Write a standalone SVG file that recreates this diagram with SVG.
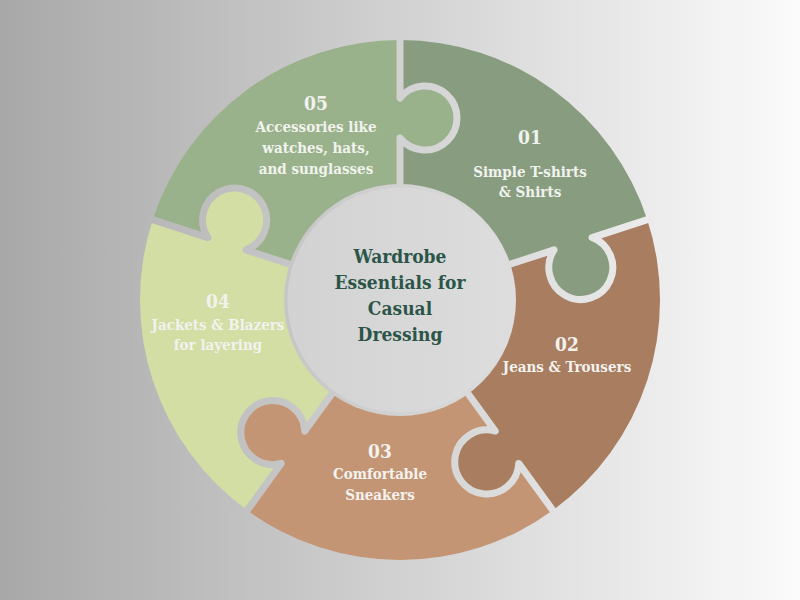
<svg xmlns="http://www.w3.org/2000/svg" width="800" height="600" viewBox="0 0 800 600">
  <defs>
    <linearGradient id="bg" gradientUnits="userSpaceOnUse" x1="0" y1="0" x2="800" y2="0">
      <stop offset="0" stop-color="#a8a8a8"/>
      <stop offset="1" stop-color="#fbfbfb"/>
    </linearGradient>
    <linearGradient id="hub" gradientUnits="userSpaceOnUse" x1="287" y1="0" x2="513" y2="0">
      <stop offset="0" stop-color="#d2d2d2"/>
      <stop offset="1" stop-color="#dddddd"/>
    </linearGradient>
    <style>
      .gap { fill: none; stroke: url(#bg); stroke-width: 7; stroke-linejoin: round; stroke-linecap: butt; }
      .num { font-family: 'DejaVu Serif Condensed', 'DejaVu Serif', serif; font-stretch: condensed; font-weight: bold; font-size: 19px; fill: #f2f2ee; text-anchor: middle; }
      .lbl { font-family: 'DejaVu Serif Condensed', 'DejaVu Serif', serif; font-stretch: condensed; font-weight: bold; font-size: 15px; fill: #f2f2ee; text-anchor: middle; }
      .title { font-family: 'DejaVu Serif Condensed', 'DejaVu Serif', serif; font-stretch: condensed; font-weight: bold; font-size: 19px; fill: #2b5548; text-anchor: middle; }
    </style>
  </defs>
  <rect x="0" y="0" width="800" height="600" fill="url(#bg)"/>

  <g id="piece1">
    <path fill="#889d80" d="M400,200 L400,138 A32,32 0 1 0 400,98 L400,40 A260,260 0 0 1 647.28,219.66 L592.11,237.58 A32,32 0 1 1 554.07,249.94 L495.11,269.10 A100,100 0 0 0 400,200 Z"/>
  </g>
  <g id="piece2">
    <path fill="#a87d60" d="M495.11,269.10 L554.07,249.94 A32,32 0 1 0 592.11,237.58 L647.28,219.66 A260,260 0 0 1 552.83,510.35 L518.73,463.42 A32,32 0 1 1 495.22,431.06 L458.78,380.90 A100,100 0 0 0 495.11,269.10 Z"/>
  </g>
  <g id="piece3">
    <path fill="#c49574" d="M458.78,380.90 L495.22,431.06 A32,32 0 1 0 518.73,463.42 L552.83,510.35 A260,260 0 0 1 247.17,510.35 L281.27,463.42 A32,32 0 1 1 304.78,431.06 L341.22,380.90 A100,100 0 0 0 458.78,380.90 Z"/>
  </g>
  <g id="piece4">
    <path fill="#d2dea4" d="M341.22,380.90 L304.78,431.06 A32,32 0 1 0 281.27,463.42 L247.17,510.35 A260,260 0 0 1 152.72,219.66 L207.89,237.58 A32,32 0 1 1 245.93,249.94 L304.89,269.10 A100,100 0 0 0 341.22,380.90 Z"/>
  </g>
  <g id="piece5">
    <path fill="#99b28b" d="M304.89,269.10 L245.93,249.94 A32,32 0 1 0 207.89,237.58 L152.72,219.66 A260,260 0 0 1 400,40 L400,98 A32,32 0 1 1 400,138 L400,200 A100,100 0 0 0 304.89,269.10 Z"/>
  </g>

  <g id="connectors">
    <path class="gap" d="M400,190 L400,138 A32,32 0 1 0 400,98 L400,34"/>
    <path class="gap" d="M504.62,266.01 L554.07,249.94 A32,32 0 1 0 592.11,237.58 L652.03,218.11"/>
    <path class="gap" d="M464.66,388.99 L495.22,431.06 A32,32 0 1 0 518.73,463.42 L555.76,514.39"/>
    <path class="gap" d="M335.34,388.99 L304.78,431.06 A32,32 0 1 0 281.27,463.42 L244.24,514.39"/>
    <path class="gap" d="M295.38,266.01 L245.93,249.94 A32,32 0 1 0 207.89,237.58 L147.97,218.11"/>
  </g>

  <g id="hub">
    <circle cx="400" cy="300" r="116" fill="url(#bg)"/>
    <circle cx="400" cy="300" r="112.5" fill="url(#hub)"/>
    <text class="title" x="400" y="263">Wardrobe</text>
    <text class="title" x="400" y="289">Essentials for</text>
    <text class="title" x="400" y="315">Casual</text>
    <text class="title" x="400" y="341">Dressing</text>
  </g>

  <g id="label1">
    <text class="num" x="530" y="144">01</text>
    <text class="lbl" x="530" y="177">Simple T-shirts</text>
    <text class="lbl" x="530" y="197">&amp; Shirts</text>
  </g>
  <g id="label2">
    <text class="num" x="567" y="351">02</text>
    <text class="lbl" x="567" y="372">Jeans &amp; Trousers</text>
  </g>
  <g id="label3">
    <text class="num" x="380" y="458">03</text>
    <text class="lbl" x="380" y="479">Comfortable</text>
    <text class="lbl" x="380" y="500">Sneakers</text>
  </g>
  <g id="label4">
    <text class="num" x="218" y="308">04</text>
    <text class="lbl" x="218" y="330">Jackets &amp; Blazers</text>
    <text class="lbl" x="218" y="350">for layering</text>
  </g>
  <g id="label5">
    <text class="num" x="316" y="110">05</text>
    <text class="lbl" x="316" y="132">Accessories like</text>
    <text class="lbl" x="316" y="153">watches, hats,</text>
    <text class="lbl" x="316" y="174">and sunglasses</text>
  </g>
</svg>
